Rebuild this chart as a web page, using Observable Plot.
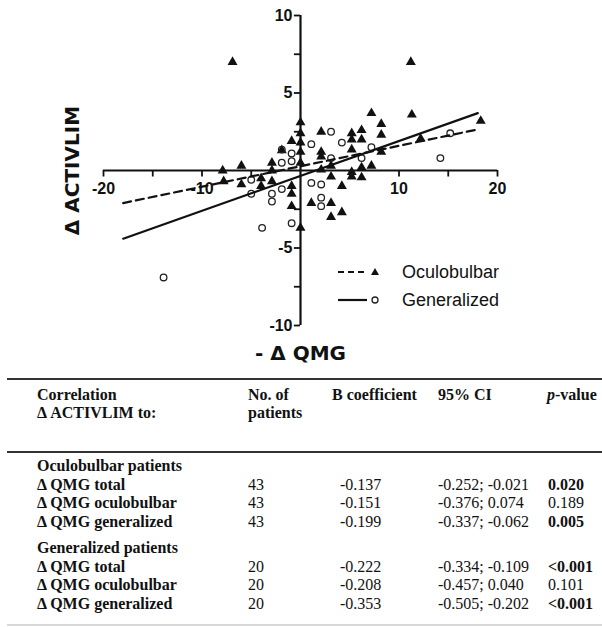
<!DOCTYPE html>
<html><head><meta charset="utf-8">
<script src="https://cdn.jsdelivr.net/npm/d3@7"></script>
<script src="https://cdn.jsdelivr.net/npm/@observablehq/plot@0.6"></script>
<style>
body{margin:0;background:#fff;}
#wrap{position:relative;width:602px;height:627px;overflow:hidden;background:#fff;}
#chart{position:absolute;left:0;top:0;}
.lg{position:absolute;left:336px;height:28px;display:flex;align-items:center;font:18px "Liberation Sans",Arial,sans-serif;color:#111;}
.lg svg{margin-right:14px;}
.cell{position:absolute;white-space:nowrap;line-height:18px;font:16px "Liberation Serif","Times New Roman",serif;color:#111;}
.b{font-weight:bold;}
.rule{position:absolute;left:7px;width:595px;background:#333;}
</style></head><body><div id="wrap"><div id="chart"></div></div>
<script>
// ---- scatter data ----
const oculoX = [-6.9, 11.2, 11.3, 18.3, 12.2, 7.2, 8.2, 8.2, 8.2, 6.2, 6.2, 5.2, 5.2, 5.2, 2.1, 2.1, 2.1, 7.2, 6.2, 5.2, 5.2, 6.2, 3.1, 3.1, 4.2, 4.2, 3.1, 3.1, 1.1, 0, 0, 0, 0, 0, 0, -0.9, -0.9, -0.9, -0.9, -2.9, -2.9, -2.9, -4.0, -4.0, -6.0, -7.9, -7.8, -6.0, 2.1, -1.9];
const oculoY = [7.0, 7.0, 3.6, 3.2, 2.05, 3.7, 3.0, 2.3, 1.2, 2.6, 2.0, 2.4, 2.0, 1.35, 2.5, 1.2, 0.9, 0.3, 0.2, -0.1, -0.4, -0.45, -0.4, 0.3, -1.0, -2.7, -2.1, -3.0, -2.1, -3.7, 3.1, 2.4, 1.8, 1.2, 0.5, 1.9, -1.0, -1.5, -2.3, 0.5, 0, -0.7, -0.5, -1.0, 0.3, 0, -0.7, -0.9, 0.05, 1.3];
const genX = [-13.9, -3.9, -0.9, -0.9, -1.9, -0.9, -5.0, -5.0, -2.9, -2.9, -1.9, 1.1, 3.1, 4.2, 7.2, 6.2, 15.2, 14.2, 2.1, 2.1, 1.1, 2.1, 3.1, -1.9];
const genY = [-6.9, -3.7, -3.4, 1.1, 0.5, 0.6, -0.6, -1.5, -1.5, -2.0, -1.2, 1.7, 2.5, 1.8, 1.5, 0.8, 2.4, 0.8, -1.75, -2.3, -0.8, -0.9, 0.8, 1.35];
// regression line end points
const fitX = [-18, 18];
const oculoFitY = [-2.1, 2.65];
const genFitY = [-4.4, 3.7];
// axes
const xTicks = [-20, -15, -10, -5, 5, 10, 15, 20];
const xTickLabels = [-20, -10, 10, 20];
const yTicks = [-10, -7.5, -5, -2.5, 2.5, 5, 7.5, 10];
const yTickLabels = [-10, -5, 5, 10];
const xTitle = "- Δ QMG";
const yTitle = "Δ ACTIVLIM";
const seriesNames = ["Oculobulbar", "Generalized"];
// ---- table data ----
const header1 = ["Correlation", "No. of", "B coefficient", "95% CI", "-value"];
const header2 = ["Δ ACTIVLIM to:", "patients", "", "", ""];
const groupNames = ["Oculobulbar patients", "Generalized patients"];
const rowLabels = ["Δ QMG total", "Δ QMG oculobulbar", "Δ QMG generalized"];
const nPatients = [43, 20];
const bCoef = [["-0.137", "-0.151", "-0.199"], ["-0.222", "-0.208", "-0.353"]];
const ciText = [["-0.252; -0.021", "-0.376; 0.074", "-0.337; -0.062"], ["-0.334; -0.109", "-0.457; 0.040", "-0.505; -0.202"]];
const pValues = [["0.020", "0.189", "0.005"], ["<0.001", "0.101", "<0.001"]];
const pSignificant = [[true, false, true], [true, false, true]];

const oculo = oculoX.map((x, i) => ({x, y: oculoY[i]}));
const gen = genX.map((x, i) => ({x, y: genY[i]}));
const oculoFit = fitX.map((x, i) => ({x, y: oculoFitY[i]}));
const genFit = fitX.map((x, i) => ({x, y: genFitY[i]}));

const sans = "Liberation Sans, Arial, sans-serif";
const chart = Plot.plot({
  width: 602, height: 370,
  marginLeft: 103, marginRight: 105, marginTop: 15, marginBottom: 45,
  x: {domain: [-20, 20], axis: null},
  y: {domain: [-10, 10], axis: null},
  style: {background: "white", color: "#111"},
  marks: [
    Plot.ruleY([0], {x1: -20, x2: 20, stroke: "#111", strokeWidth: 2.2}),
    Plot.ruleX([0], {y1: -10, y2: 10, stroke: "#111", strokeWidth: 2.2}),
    Plot.ruleX(xTicks, {x: d => d, y1: 0, y2: -0.42, stroke: "#111", strokeWidth: 1.8}),
    Plot.ruleY(yTicks, {y: d => d, x1: 0, x2: -0.62, stroke: "#111", strokeWidth: 1.8}),
    Plot.text(xTickLabels, {x: d => d, y: 0, dy: 18, text: d => String(d), fontSize: 16, fontWeight: "bold", fontFamily: sans, fill: "#111"}),
    Plot.text(yTickLabels, {x: 0, y: d => d, dx: -8, textAnchor: "end", text: d => String(d), fontSize: 16, fontWeight: "bold", fontFamily: sans, fill: "#111"}),
    Plot.dot(oculo, {x: "x", y: "y", symbol: "triangle", r: 3.7, fill: "#111", stroke: "none"}),
    Plot.dot(gen, {x: "x", y: "y", r: 3.3, fill: "none", stroke: "#222", strokeWidth: 1.3}),
    Plot.line(oculoFit, {x: "x", y: "y", stroke: "#111", strokeWidth: 2.2, strokeDasharray: "8,5"}),
    Plot.line(genFit, {x: "x", y: "y", stroke: "#111", strokeWidth: 2.2}),
    Plot.text([yTitle], {frameAnchor: "left", textAnchor: "middle", dx: -31, rotate: -90, text: d => d, fontSize: 20, fontWeight: "bold", fontFamily: "DejaVu Sans, sans-serif", fill: "#111"}),
    Plot.text([xTitle], {frameAnchor: "bottom", dy: 34, text: d => d, fontSize: 20, fontWeight: "bold", fontFamily: "DejaVu Sans, sans-serif", fill: "#111"})
  ]
});
const wrap = document.getElementById("wrap");
document.getElementById("chart").appendChild(chart);

// legend
const lgTops = [258, 286];
seriesNames.forEach((name, i) => {
  const d = document.createElement("div");
  d.className = "lg";
  d.style.top = lgTops[i] + "px";
  const sample = i === 0
    ? `<svg width="52" height="28"><line x1="2" y1="14" x2="32" y2="14" stroke="#111" stroke-width="2.2" stroke-dasharray="6,4"/><path d="M39,10 L43,17 L35,17 Z" fill="#111"/></svg>`
    : `<svg width="52" height="28"><line x1="2" y1="14" x2="31" y2="14" stroke="#111" stroke-width="2.2"/><circle cx="39" cy="14" r="3" fill="none" stroke="#222" stroke-width="1.3"/></svg>`;
  d.innerHTML = sample + `<span>${name}</span>`;
  wrap.appendChild(d);
});

// table
const colX = [37, 248, 332, 438, 547];
const valX = [37, 248, 340, 438, 548];
function cell(txt, x, yc, bold, html) {
  const d = document.createElement("div");
  d.className = "cell" + (bold ? " b" : "");
  d.style.left = x + "px";
  d.style.top = (yc - 9) + "px";
  if (html) d.innerHTML = html; else d.textContent = txt;
  wrap.appendChild(d);
}
function rule(y, h, color) {
  const d = document.createElement("div");
  d.className = "rule";
  d.style.top = y + "px";
  d.style.height = h + "px";
  if (color) d.style.background = color;
  wrap.appendChild(d);
}
rule(378, 2);
rule(451, 2);
rule(624, 2, "#d8d8d8");
header1.forEach((h, j) => {
  if (j === 4) cell("", colX[j], 395, true, `<i>p</i>${h}`);
  else cell(h, colX[j], 395, true);
});
header2.forEach((h, j) => { if (h) cell(h, colX[j], 413, true); });
const groupY = [466, 548];
groupNames.forEach((g, gi) => {
  const y0 = groupY[gi];
  cell(g, valX[0], y0, true);
  rowLabels.forEach((r, ri) => {
    const y = y0 + 18.5 * (ri + 1);
    cell(r, valX[0], y, true);
    cell(String(nPatients[gi]), valX[1], y, false);
    cell(bCoef[gi][ri], valX[2], y, false);
    cell(ciText[gi][ri], valX[3], y, false);
    cell(pValues[gi][ri], valX[4], y, pSignificant[gi][ri]);
  });
});
</script></body></html>
